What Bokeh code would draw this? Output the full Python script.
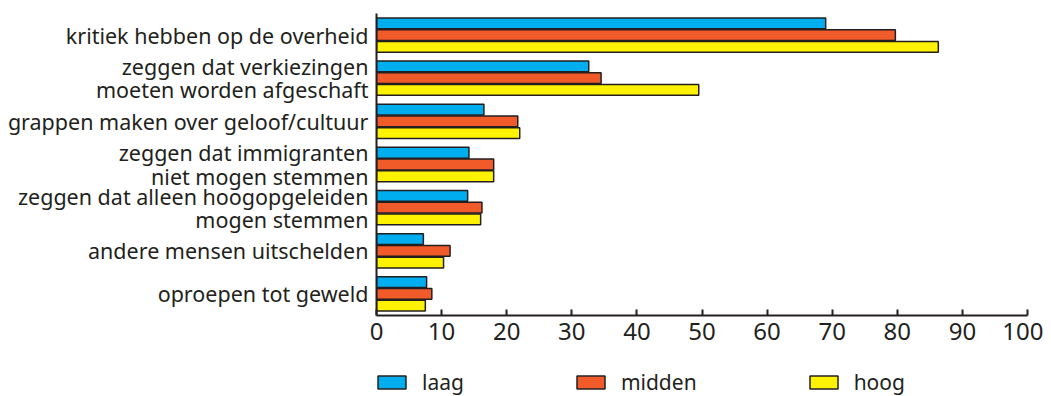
from bokeh.plotting import figure
from bokeh.layouts import column
from bokeh.models import Range1d, FixedTicker, Legend, LegendItem, ColumnDataSource
from bokeh.embed import file_html
from bokeh.resources import INLINE

categories = [
    "kritiek hebben op de overheid",
    "zeggen dat verkiezingen\nmoeten worden afgeschaft",
    "grappen maken over geloof/cultuur",
    "zeggen dat immigranten\nniet mogen stemmen",
    "zeggen dat alleen hoogopgeleiden\nmogen stemmen",
    "andere mensen uitschelden",
    "oproepen tot geweld",
]
series_names = ["laag", "midden", "hoog"]
laag = [69.0, 32.6, 16.5, 14.2, 14.0, 7.2, 7.7]
midden = [79.7, 34.5, 21.7, 18.0, 16.2, 11.3, 8.5]
hoog = [86.3, 49.5, 22.0, 18.0, 16.0, 10.3, 7.5]
x_ticks = [0, 10, 20, 30, 40, 50, 60, 70, 80, 90, 100]

colors = ["#00AEEF", "#F15A29", "#FFF200"]
edge = "#231F20"
FONT = "Noto Sans"

n = len(categories)
p = figure(width=1043, height=350, output_backend="svg", toolbar_location=None,
           x_range=Range1d(0, 100), y_range=Range1d(n - 0.5, -0.5),
           min_border_left=376, min_border_right=16, min_border_top=13, min_border_bottom=35)
p.outline_line_color = None
p.xgrid.visible = False
p.ygrid.visible = False

offsets = [-0.272, 0.0, 0.272]
sources = []
for vals, off, col in zip([laag, midden, hoog], offsets, colors):
    src = ColumnDataSource(dict(y=[i + off for i in range(n)], right=vals))
    sources.append(src)
    p.hbar(y="y", right="right", left=0, height=0.25, source=src,
           fill_color=col, line_color=edge, line_width=1.5)

# x axis
xa = p.xaxis[0]
xa.ticker = FixedTicker(ticks=x_ticks)
xa.minor_tick_line_color = None
xa.major_tick_in = 6
xa.major_tick_out = 0
xa.axis_line_width = 2
xa.axis_line_color = edge
xa.major_tick_line_color = edge
xa.major_tick_line_width = 2
xa.major_label_text_font = FONT
xa.major_label_text_font_size = "24px"
xa.major_label_text_color = edge
xa.major_label_standoff = 7

# y axis
ya = p.yaxis[0]
ya.ticker = FixedTicker(ticks=list(range(n)))
ya.major_label_overrides = {i: c for i, c in enumerate(categories)}
ya.minor_tick_line_color = None
ya.major_tick_in = 0
ya.major_tick_out = 0
ya.axis_line_width = 2
ya.axis_line_color = edge
ya.major_label_text_font = FONT
ya.major_label_text_font_size = "21.5px"
ya.major_label_text_line_height = 0.8
ya.major_label_text_color = edge
ya.major_label_standoff = 8
ya.major_label_text_align = "right"

# legend in its own strip below the chart (its renderers are hidden)
p2 = figure(width=1043, height=46, output_backend="svg", toolbar_location=None,
            x_range=Range1d(0, 100), y_range=Range1d(0, 1),
            x_axis_type=None, y_axis_type=None,
            min_border_left=376, min_border_right=16, min_border_top=0, min_border_bottom=0)
p2.outline_line_color = None
p2.xgrid.visible = False
p2.ygrid.visible = False
leg_renderers = []
for src, col in zip(sources, colors):
    r = p2.hbar(y="y", right="right", left=0, height=0.25, source=src,
                fill_color=col, line_color=edge, line_width=1.5, visible=False)
    leg_renderers.append(r)
legend = Legend(items=[LegendItem(label=nm, renderers=[r]) for nm, r in zip(series_names, leg_renderers)],
                location=(-2, 0), orientation="horizontal", border_line_color=None,
                background_fill_alpha=0, padding=0, margin=0, spacing=109,
                glyph_width=35, glyph_height=16, label_standoff=13,
                label_text_font=FONT, label_text_font_size="21px",
                label_text_color=edge, label_height=16,
                inactive_fill_alpha=0)
p2.add_layout(legend, "center")

open("out.html", "w").write(file_html(column(p, p2, spacing=0), INLINE))
